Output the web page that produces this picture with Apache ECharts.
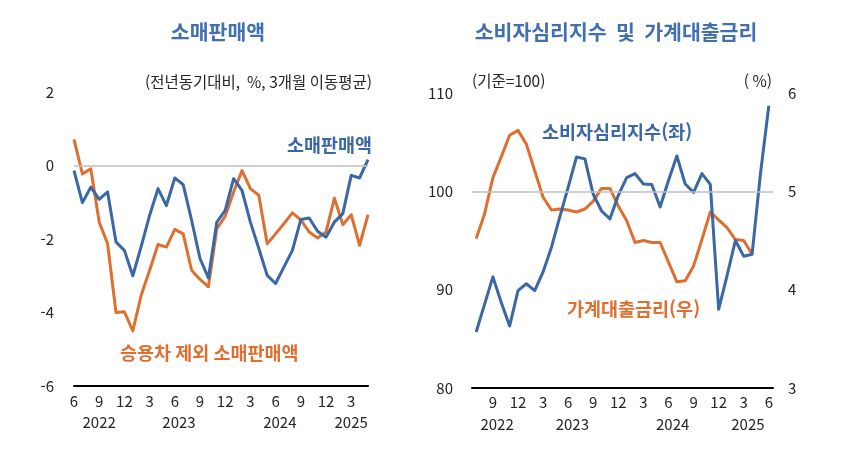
<!DOCTYPE html>
<html lang="ko">
<head>
<meta charset="utf-8">
<title>소매판매액 / 소비자심리지수 및 가계대출금리</title>
<script src="https://cdn.jsdelivr.net/npm/echarts@6.0.0/dist/echarts.min.js"></script>
<style>
  html, body { margin: 0; padding: 0; background: #fff; }
  #chart { width: 849px; height: 462px; }
</style>
</head>
<body>
<div id="chart"></div>
<script>
/* 왼쪽: 소매판매액 (전년동기대비, %, 3개월 이동평균) 2022.6 ~ 2025.5 */
const retailMonths = [
  '2022.6', '2022.7', '2022.8', '2022.9', '2022.10', '2022.11', '2022.12',
  '2023.1', '2023.2', '2023.3', '2023.4', '2023.5', '2023.6', '2023.7', '2023.8', '2023.9', '2023.10', '2023.11', '2023.12',
  '2024.1', '2024.2', '2024.3', '2024.4', '2024.5', '2024.6', '2024.7', '2024.8', '2024.9', '2024.10', '2024.11', '2024.12',
  '2025.1', '2025.2', '2025.3', '2025.4', '2025.5'
];
const retailSales = [
  -0.14, -1.01, -0.59, -0.92, -0.72, -2.08, -2.31, -3.0, -2.2, -1.36, -0.63, -1.09,
  -0.34, -0.52, -1.49, -2.53, -3.06, -1.54, -1.22, -0.36, -0.68, -1.54, -2.26, -2.99,
  -3.21, -2.76, -2.31, -1.47, -1.43, -1.79, -1.95, -1.54, -1.31, -0.27, -0.34, 0.16
];
const retailExAuto = [
  0.71, -0.23, -0.09, -1.54, -2.13, -4.0, -3.98, -4.5, -3.53, -2.85, -2.15, -2.22,
  -1.74, -1.86, -2.85, -3.1, -3.3, -1.72, -1.38, -0.72, -0.14, -0.63, -0.81, -2.13,
  -1.86, -1.58, -1.29, -1.48, -1.81, -1.97, -1.81, -0.89, -1.61, -1.34, -2.17, -1.34
];
const retailTicks = [-6, -4, -2, 0, 2];

/* 오른쪽: 소비자심리지수(좌, 기준=100) / 가계대출금리(우, %) 2022.7 ~ 2025.6 */
const sentimentMonths = [
  '2022.7', '2022.8', '2022.9', '2022.10', '2022.11', '2022.12',
  '2023.1', '2023.2', '2023.3', '2023.4', '2023.5', '2023.6', '2023.7', '2023.8', '2023.9', '2023.10', '2023.11', '2023.12',
  '2024.1', '2024.2', '2024.3', '2024.4', '2024.5', '2024.6', '2024.7', '2024.8', '2024.9', '2024.10', '2024.11', '2024.12',
  '2025.1', '2025.2', '2025.3', '2025.4', '2025.5', '2025.6'
];
const consumerSentiment = [
  85.7, 88.5, 91.3, 88.7, 86.3, 89.9, 90.6, 89.9, 91.8, 94.3, 97.4, 100.4,
  103.5, 103.3, 99.7, 98.0, 97.2, 99.6, 101.4, 101.8, 100.75, 100.7, 98.4, 101.1,
  103.6, 100.75, 99.9, 101.8, 100.7, 88.0, 91.4, 95.0, 93.4, 93.6, 101.8, 108.7
];
const householdLoanRate = [
  4.52, 4.77, 5.14, 5.35, 5.57, 5.62, 5.48, 5.21, 4.94, 4.81, 4.82, 4.81,
  4.79, 4.82, 4.9, 5.03, 5.03, 4.85, 4.7, 4.48, 4.5, 4.48, 4.48, 4.28,
  4.08, 4.09, 4.24, 4.51, 4.79, 4.71, 4.63, 4.51, 4.5, 4.36
];
const sentimentTicks = [80, 90, 100, 110];
const rateTicks = [3, 4, 5, 6];

const BLUE = '#3A67A6';
const ORANGE = '#DF6F30';
const TITLE = '#4170B0';
const GREY = '#BFBFBF';
const INK = '#262626';
const FONT = '"Noto Sans CJK KR", "Noto Sans", sans-serif';

/* 월 라벨: 3,6,9,12월만 */
const monthOf = (s) => Number(s.split('.')[1]);
const quarterTick = (idx, val) => monthOf(val) % 3 === 0;

/* 연도 라벨은 해당 연도 구간의 가운데 */
const yearGroups = (months) => {
  const names = [], centers = [];
  months.forEach((m, i) => {
    const y = m.split('.')[0];
    const k = names.indexOf(y);
    if (k < 0) { names.push(y); centers.push([i, i]); }
    else centers[k][1] = i;
  });
  return { names, centers: centers.map(([a, b]) => (a + b) / 2) };
};
const leftYears = yearGroups(retailMonths);
const rightYears = yearGroups(sentimentMonths);

const tickLabel = { fontFamily: FONT, fontSize: 15, color: INK };

const monthAxis = (gridIndex, months, boundaryGap, margin) => ({
  type: 'category', gridIndex, data: months, boundaryGap,
  axisLine: { show: true, onZero: false, lineStyle: { color: '#000', width: 2 } },
  axisTick: { show: false },
  axisLabel: { ...tickLabel, interval: quarterTick, formatter: (v) => String(monthOf(v)), margin }
});

const yearAxis = (gridIndex, years, min, max) => ({
  type: 'value', gridIndex, position: 'bottom', min, max,
  axisLine: { show: false }, axisTick: { show: false }, splitLine: { show: false },
  axisLabel: {
    ...tickLabel, margin: 29, showMinLabel: true, showMaxLabel: true,
    customValues: years.centers,
    formatter: (v) => years.names[years.centers.indexOf(v)] || ''
  }
});

const valueAxis = (gridIndex, ticks, position, margin) => ({
  type: 'value', gridIndex, position,
  min: ticks[0], max: ticks[ticks.length - 1], interval: ticks[1] - ticks[0],
  axisLine: { show: false }, axisTick: { show: false }, splitLine: { show: false },
  axisLabel: { ...tickLabel, margin }
});

const refLine = (xAxisIndex, yAxisIndex, value) => ({
  type: 'line', xAxisIndex, yAxisIndex, data: [], z: 1, silent: true,
  markLine: {
    silent: true, symbol: 'none', label: { show: false },
    lineStyle: { color: GREY, width: 1.5, type: 'solid' },
    data: [{ yAxis: value }]
  }
});

const lineSeries = (name, data, color, xAxisIndex, yAxisIndex, z) => ({
  name, type: 'line', data, xAxisIndex, yAxisIndex, z,
  symbol: 'none', smooth: false, animation: false,
  lineStyle: { color, width: 3, join: 'round' }
});

const text = (str, x, y, color, size, weight, align) => ({
  type: 'text', x, y, silent: true,
  style: {
    text: str, fill: color, font: `${weight} ${size}px ${FONT}`,
    textAlign: align, textVerticalAlign: 'middle'
  }
});

const option = {
  backgroundColor: '#fff',
  animation: false,
  grid: [
    { left: 74, right: 481, top: 92, bottom: 76 },
    { left: 472, right: 76, top: 93, bottom: 74 }
  ],
  xAxis: [
    monthAxis(0, retailMonths, false, 8),
    yearAxis(0, leftYears, 0, retailMonths.length - 1),
    monthAxis(1, sentimentMonths, true, 7),
    yearAxis(1, rightYears, -0.5, sentimentMonths.length - 0.5)
  ],
  yAxis: [
    valueAxis(0, retailTicks, 'left', 20),
    valueAxis(1, sentimentTicks, 'left', 19),
    valueAxis(1, rateTicks, 'right', 15)
  ],
  series: [
    refLine(0, 0, 0),
    refLine(2, 1, 100),
    lineSeries('승용차 제외 소매판매액', retailExAuto, ORANGE, 0, 0, 2),
    lineSeries('소매판매액', retailSales, BLUE, 0, 0, 3),
    lineSeries('가계대출금리(우)', householdLoanRate, ORANGE, 2, 2, 2),
    lineSeries('소비자심리지수(좌)', consumerSentiment, BLUE, 2, 1, 3)
  ],
  graphic: [
    text('소매판매액', 218, 32, TITLE, 20.5, 'bold', 'center'),
    text('소비자심리지수  및  가계대출금리', 616, 32, TITLE, 20.5, 'bold', 'center'),
    text('(전년동기대비,  %, 3개월 이동평균)', 372, 82, INK, 15.5, 'normal', 'right'),
    text('(기준=100)', 472, 81, INK, 15.5, 'normal', 'left'),
    text('( %)', 772, 81, INK, 15.5, 'normal', 'right'),
    text('소매판매액', 372, 145, BLUE, 18.5, 'bold', 'right'),
    text('승용차 제외 소매판매액', 120, 353, ORANGE, 18.5, 'bold', 'left'),
    text('소비자심리지수(좌)', 542, 132, BLUE, 18.5, 'bold', 'left'),
    text('가계대출금리(우)', 567, 309, ORANGE, 18.5, 'bold', 'left')
  ]
};

const chart = echarts.init(document.getElementById('chart'), null, { renderer: 'canvas' });
chart.setOption(option);
</script>
</body>
</html>
